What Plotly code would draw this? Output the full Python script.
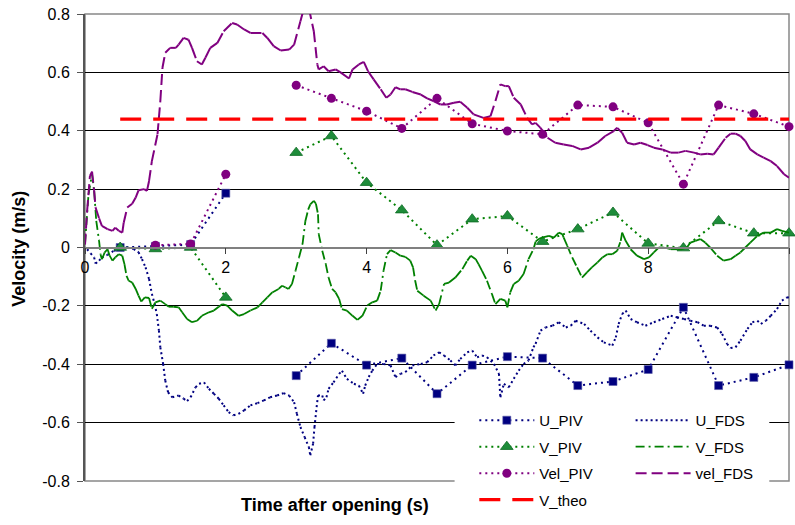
import plotly.graph_objects as go

# ---------------- data ----------------
T_PIV = [0.5, 1.0, 1.5, 2.0, 2.5, 3.0, 3.5, 4.0, 4.5, 5.0, 5.5, 6.0, 6.5, 7.0, 7.5, 8.0, 8.5, 9.0, 9.5, 10.0]
U_PIV = [0.0, 0.004, 0.01, 0.186, None, -0.439, -0.328, -0.403, -0.379, -0.501, -0.403, -0.374, -0.379,
         -0.473, -0.459, -0.418, -0.205, -0.473, -0.445, -0.402]
V_PIV = [0.0, -0.005, 0.0, -0.171, None, 0.325, 0.382, 0.222, 0.128, 0.008, 0.097, 0.108, 0.02,
         0.063, 0.12, 0.014, -0.002, 0.091, 0.049, 0.049]
T_VEL_PIV = [1.0, 1.5, 2.0, 2.5, 3.0, 3.5, 4.0, 4.5, 5.0, 5.5, 6.0, 6.5, 7.0, 7.5, 8.0, 8.5, 9.0, 9.5, 10.0]
VEL_PIV = [0.008, 0.012, 0.251, None, 0.556, 0.511, 0.467, 0.408, 0.511, 0.424, 0.399, 0.388,
           0.488, 0.482, 0.427, 0.217, 0.488, 0.458, 0.414]

U_FDS = [(0.0, 0.0), (0.03, -0.006), (0.08, -0.02), (0.13, -0.034), (0.15, -0.055), (0.2, -0.045),
         (0.24, -0.034), (0.32, -0.025), (0.41, -0.011), (0.5, -0.005), (0.6, 0.0), (0.69, -0.005),
         (0.76, -0.016), (0.81, -0.04), (0.86, -0.068), (0.91, -0.108), (0.95, -0.159), (0.99, -0.194),
         (1.02, -0.228), (1.05, -0.285), (1.07, -0.342), (1.11, -0.399), (1.14, -0.456), (1.18, -0.496),
         (1.24, -0.513), (1.33, -0.507), (1.40, -0.518), (1.45, -0.526), (1.50, -0.513), (1.57, -0.479),
         (1.62, -0.467), (1.69, -0.462), (1.76, -0.484), (1.83, -0.501), (1.90, -0.518), (1.97, -0.541),
         (2.04, -0.564), (2.11, -0.575), (2.18, -0.570), (2.26, -0.558), (2.35, -0.541), (2.45, -0.533),
         (2.54, -0.524), (2.63, -0.513), (2.73, -0.507), (2.82, -0.499), (2.90, -0.507), (2.97, -0.530),
         (3.01, -0.570), (3.06, -0.615), (3.12, -0.650), (3.18, -0.684), (3.20, -0.712), (3.24, -0.672),
         (3.26, -0.615), (3.29, -0.547), (3.31, -0.507), (3.37, -0.507), (3.39, -0.524), (3.43, -0.513),
         (3.46, -0.484), (3.53, -0.462), (3.61, -0.433), (3.65, -0.422), (3.72, -0.450), (3.82, -0.467),
         (3.89, -0.473), (3.95, -0.501), (3.98, -0.473), (4.03, -0.444), (4.08, -0.422), (4.15, -0.399),
         (4.24, -0.399), (4.34, -0.404), (4.41, -0.444), (4.48, -0.433), (4.55, -0.427), (4.65, -0.404),
         (4.77, -0.399), (4.86, -0.393), (4.95, -0.370), (5.03, -0.359), (5.10, -0.370), (5.19, -0.387),
         (5.26, -0.404), (5.33, -0.382), (5.43, -0.359), (5.50, -0.353), (5.57, -0.376), (5.64, -0.370),
         (5.71, -0.376), (5.81, -0.399), (5.88, -0.433), (5.90, -0.513), (5.95, -0.467), (6.02, -0.479),
         (6.09, -0.450), (6.16, -0.422), (6.23, -0.399), (6.30, -0.387), (6.37, -0.342), (6.40, -0.330),
         (6.47, -0.285), (6.54, -0.274), (6.64, -0.268), (6.73, -0.256), (6.83, -0.274), (6.90, -0.268),
         (6.97, -0.251), (7.09, -0.262), (7.18, -0.285), (7.28, -0.308), (7.37, -0.325), (7.49, -0.336),
         (7.54, -0.308), (7.58, -0.262), (7.63, -0.228), (7.68, -0.216), (7.75, -0.245), (7.84, -0.256),
         (7.96, -0.268), (8.08, -0.256), (8.20, -0.245), (8.32, -0.234), (8.41, -0.239), (8.51, -0.245),
         (8.60, -0.251), (8.70, -0.256), (8.79, -0.268), (8.88, -0.268), (8.98, -0.274), (9.05, -0.296),
         (9.12, -0.330), (9.17, -0.344), (9.24, -0.342), (9.31, -0.319), (9.41, -0.279), (9.48, -0.256),
         (9.55, -0.251), (9.60, -0.262), (9.67, -0.251), (9.74, -0.234), (9.83, -0.211), (9.90, -0.182),
         (9.97, -0.171), (10.0, -0.171)]

V_FDS = [(0.0, 0.012), (0.05, 0.182), (0.10, 0.251), (0.13, 0.194), (0.16, 0.091), (0.20, 0.023),
         (0.22, -0.023), (0.24, -0.040), (0.28, -0.017), (0.32, -0.006), (0.35, -0.028), (0.39, -0.045),
         (0.43, -0.034), (0.48, -0.023), (0.53, -0.028), (0.56, -0.057), (0.59, -0.097), (0.62, -0.114),
         (0.67, -0.120), (0.72, -0.142), (0.76, -0.165), (0.80, -0.185), (0.85, -0.171), (0.91, -0.173),
         (0.95, -0.210), (1.0, -0.188), (1.07, -0.182), (1.14, -0.194), (1.19, -0.203), (1.26, -0.203),
         (1.33, -0.205), (1.38, -0.222), (1.45, -0.245), (1.52, -0.256), (1.59, -0.251), (1.66, -0.234),
         (1.76, -0.222), (1.83, -0.216), (1.90, -0.203), (1.95, -0.194), (2.02, -0.199), (2.09, -0.216),
         (2.18, -0.234), (2.26, -0.228), (2.35, -0.216), (2.45, -0.205), (2.52, -0.188), (2.59, -0.171),
         (2.66, -0.154), (2.75, -0.142), (2.80, -0.131), (2.85, -0.137), (2.89, -0.142), (2.94, -0.125),
         (2.99, -0.080), (3.04, -0.034), (3.09, 0.012), (3.13, 0.090), (3.17, 0.130), (3.20, 0.148),
         (3.25, 0.160), (3.28, 0.150), (3.31, 0.114), (3.32, 0.046), (3.37, -0.011), (3.42, -0.057),
         (3.46, -0.103), (3.51, -0.142), (3.56, -0.154), (3.61, -0.176), (3.65, -0.211), (3.72, -0.216),
         (3.80, -0.234), (3.87, -0.248), (3.94, -0.234), (4.01, -0.199), (4.08, -0.188), (4.15, -0.182),
         (4.20, -0.148), (4.24, -0.080), (4.29, -0.023), (4.34, -0.009), (4.41, -0.017), (4.48, -0.028),
         (4.55, -0.032), (4.62, -0.045), (4.66, -0.068), (4.69, -0.114), (4.72, -0.148), (4.81, -0.165),
         (4.91, -0.182), (4.98, -0.216), (5.03, -0.194), (5.10, -0.125), (5.17, -0.120), (5.26, -0.103),
         (5.36, -0.074), (5.43, -0.045), (5.48, -0.028), (5.55, -0.040), (5.59, -0.057), (5.64, -0.080),
         (5.71, -0.114), (5.78, -0.159), (5.83, -0.194), (5.90, -0.176), (5.97, -0.182), (6.00, -0.205),
         (6.04, -0.154), (6.09, -0.125), (6.16, -0.114), (6.23, -0.091), (6.30, -0.040), (6.37, -0.006),
         (6.40, 0.020), (6.45, 0.030), (6.49, 0.034), (6.59, 0.040), (6.66, 0.034), (6.73, 0.051),
         (6.78, 0.046), (6.80, 0.034), (6.85, 0.006), (6.92, -0.034), (6.99, -0.068), (7.06, -0.103),
         (7.13, -0.085), (7.20, -0.068), (7.28, -0.051), (7.35, -0.034), (7.42, -0.023), (7.49, -0.023),
         (7.56, -0.011), (7.61, 0.023), (7.63, 0.051), (7.68, 0.023), (7.75, -0.006), (7.84, -0.028),
         (7.94, -0.040), (8.01, -0.034), (8.08, -0.017), (8.15, 0.0), (8.22, 0.0), (8.32, -0.006),
         (8.41, -0.006), (8.48, -0.006), (8.55, 0.0), (8.60, 0.017), (8.67, 0.023), (8.74, 0.029),
         (8.81, 0.017), (8.88, 0.0), (8.98, -0.028), (9.07, -0.045), (9.17, -0.040), (9.24, -0.028),
         (9.31, -0.017), (9.38, 0.0), (9.45, 0.017), (9.55, 0.040), (9.64, 0.051), (9.74, 0.051),
         (9.83, 0.063), (9.90, 0.057), (10.0, 0.051)]

VEL_FDS = [(0.0, 0.01), (0.03, 0.125), (0.07, 0.245), (0.10, 0.26), (0.13, 0.194), (0.15, 0.137),
           (0.20, 0.10), (0.24, 0.074), (0.32, 0.063), (0.39, 0.057), (0.43, 0.068), (0.48, 0.057),
           (0.53, 0.051), (0.55, 0.085), (0.60, 0.137), (0.67, 0.150), (0.72, 0.171), (0.76, 0.196),
           (0.84, 0.200), (0.88, 0.194), (0.91, 0.228), (0.95, 0.296), (1.03, 0.388), (1.07, 0.502),
           (1.10, 0.615), (1.14, 0.667), (1.21, 0.684), (1.29, 0.684), (1.33, 0.695), (1.40, 0.718),
           (1.47, 0.712), (1.52, 0.684), (1.59, 0.638), (1.66, 0.627), (1.71, 0.650), (1.78, 0.684),
           (1.88, 0.701), (1.97, 0.741), (2.09, 0.769), (2.16, 0.764), (2.26, 0.747), (2.35, 0.735),
           (2.52, 0.735), (2.59, 0.718), (2.68, 0.690), (2.78, 0.675), (2.90, 0.678), (2.97, 0.695),
           (3.06, 0.775), (3.11, 0.82), (3.18, 0.82), (3.25, 0.741), (3.30, 0.627), (3.32, 0.610),
           (3.39, 0.621), (3.46, 0.604), (3.56, 0.610), (3.63, 0.600), (3.75, 0.579), (3.80, 0.610),
           (3.89, 0.627), (3.96, 0.636), (4.02, 0.604), (4.10, 0.576), (4.20, 0.542), (4.28, 0.513),
           (4.34, 0.524), (4.41, 0.549), (4.48, 0.542), (4.55, 0.542), (4.65, 0.533), (4.77, 0.524),
           (4.86, 0.511), (4.95, 0.502), (5.05, 0.490), (5.14, 0.490), (5.24, 0.496), (5.33, 0.499),
           (5.43, 0.479), (5.52, 0.456), (5.66, 0.444), (5.76, 0.450), (5.83, 0.502), (5.90, 0.559),
           (5.97, 0.553), (6.02, 0.553), (6.09, 0.513), (6.19, 0.490), (6.28, 0.444), (6.35, 0.422),
           (6.40, 0.427), (6.47, 0.410), (6.57, 0.376), (6.68, 0.359), (6.80, 0.353), (6.92, 0.348),
           (7.04, 0.336), (7.16, 0.342), (7.28, 0.359), (7.39, 0.382), (7.51, 0.399), (7.56, 0.410),
           (7.63, 0.393), (7.70, 0.359), (7.80, 0.353), (7.89, 0.359), (7.99, 0.351), (8.08, 0.342),
           (8.20, 0.336), (8.32, 0.325), (8.43, 0.325), (8.53, 0.331), (8.65, 0.325), (8.74, 0.319),
           (8.84, 0.321), (8.93, 0.319), (9.00, 0.342), (9.10, 0.376), (9.17, 0.390), (9.24, 0.390),
           (9.31, 0.382), (9.38, 0.365), (9.45, 0.336), (9.55, 0.319), (9.64, 0.308), (9.74, 0.296),
           (9.83, 0.279), (9.93, 0.251), (10.0, 0.239)]

T_THEO = [0.5, 10.0]
V_THEO = [0.44, 0.44]

Y_TICKS = [0.8, 0.6, 0.4, 0.2, 0.0, -0.2, -0.4, -0.6, -0.8]
Y_TICKTEXT = ["0.8", "0.6", "0.4", "0.2", "0", "-0.2", "-0.4", "-0.6", "-0.8"]
X_TICKS = [0, 2, 4, 6, 8, 10]

# ---------------- helpers ----------------
NAVY, GREEN, PURPLE, RED = "#000080", "#008000", "#800080", "#FF0000"
FONT = "Liberation Sans, Arial, sans-serif"


def per_segment(pairs):
    """Split a line into separate segments so the dash pattern restarts at every
    data point (as in the original spreadsheet chart)."""
    xs, ys = [], []
    for (x0, y0), (x1, y1) in zip(pairs[:-1], pairs[1:]):
        xs += [x0, x1, None]
        ys += [y0, y1, None]
    return xs, ys


fig = go.Figure()

# U_PIV
fig.add_trace(go.Scatter(x=T_PIV, y=U_PIV, name="U_PIV", mode="lines+markers",
                         line=dict(color=NAVY, width=2, dash="2px,4px"),
                         marker=dict(symbol="square", size=8, color=NAVY,
                                     line=dict(color="#5a5aa8", width=0.6)),
                         cliponaxis=False, legend="legend", legendgroup="a"))
# U_FDS
ux, uy = per_segment(U_FDS)
fig.add_trace(go.Scatter(x=ux, y=uy, name="U_FDS", mode="lines",
                         line=dict(color=NAVY, width=2, dash="2px,3px"),
                         legend="legend2", legendgroup="b"))
# V_PIV
fig.add_trace(go.Scatter(x=T_PIV, y=V_PIV, name="V_PIV", mode="lines+markers",
                         line=dict(color=GREEN, width=2, dash="2px,4px"),
                         marker=dict(symbol="triangle-up", size=11, color="#1E8C3A",
                                     line=dict(color="#0B6B22", width=0.8)),
                         cliponaxis=False, legend="legend", legendgroup="c"))
# V_FDS
vx, vy = per_segment(V_FDS)
fig.add_trace(go.Scatter(x=vx, y=vy, name="V_FDS", mode="lines",
                         line=dict(color=GREEN, width=1.8, dash="9px,4px,2px,4px"),
                         legend="legend2", legendgroup="d"))
# Vel_PIV
fig.add_trace(go.Scatter(x=T_VEL_PIV, y=VEL_PIV, name="Vel_PIV", mode="lines+markers",
                         line=dict(color=PURPLE, width=2, dash="2px,4px"),
                         marker=dict(symbol="circle", size=9, color=PURPLE),
                         cliponaxis=False, legend="legend", legendgroup="e"))
# vel_FDS
wx, wy = per_segment(VEL_FDS)
fig.add_trace(go.Scatter(x=wx, y=wy, name="vel_FDS", mode="lines",
                         line=dict(color=PURPLE, width=2, dash="11px,5px"),
                         legend="legend2", legendgroup="f"))
# V_theo
fig.add_trace(go.Scatter(x=T_THEO, y=V_THEO, name="V_theo", mode="lines",
                         line=dict(color=RED, width=3.2, dash="21px,12px"),
                         legend="legend", legendgroup="g"))

legend_common = dict(font=dict(family=FONT, size=15, color="#000"),
                     bgcolor="rgba(0,0,0,0)", borderwidth=0, itemwidth=55,
                     traceorder="grouped", tracegroupgap=4,
                     xanchor="left", yanchor="top", orientation="v")

fig.update_layout(
    width=795, height=525,
    margin=dict(l=85, r=6, t=12, b=44),
    paper_bgcolor="white", plot_bgcolor="white",
    font=dict(family=FONT, size=16, color="#000"),
    showlegend=True,
    legend=dict(x=0.553, y=0.165, **legend_common),
    legend2=dict(x=0.775, y=0.165, **legend_common),
    xaxis=dict(range=[0, 10], tickvals=X_TICKS, ticktext=[str(v) for v in X_TICKS],
               anchor="free", position=0.5, showgrid=False, zeroline=False,
               showline=True, linecolor="#808080", linewidth=1.5,
               ticks="outside", ticklen=6, tickcolor="#404040", tickwidth=1,
               tickfont=dict(family=FONT, size=16, color="#000")),
    yaxis=dict(range=[-0.8, 0.8], tickvals=Y_TICKS, ticktext=Y_TICKTEXT,
               showgrid=True, gridcolor="#000000", gridwidth=1, zeroline=False,
               showline=True, linecolor="#555555", linewidth=2,
               ticks="outside", ticklen=6, tickcolor="#555555", tickwidth=1,
               ticklabelstandoff=4,
               tickfont=dict(family=FONT, size=16, color="#000")),
    shapes=[
        # plot-area frame
        dict(type="rect", xref="paper", yref="paper", x0=0, x1=1, y0=0, y1=1,
             line=dict(color="#888888", width=1.5), fillcolor="rgba(0,0,0,0)", layer="between"),
        # legend background
        dict(type="rect", xref="paper", yref="paper", x0=0.525, x1=0.972, y0=-0.095, y1=0.172,
             line=dict(width=0), fillcolor="white", layer="above"),
    ],
    annotations=[
        dict(text="<b>Time after opening (s)</b>", xref="paper", yref="paper",
             x=0.355, y=-0.051, xanchor="center", yanchor="middle", showarrow=False,
             font=dict(family=FONT, size=18, color="#000")),
        dict(text="<b>Velocity (m/s)</b>", xref="paper", yref="paper",
             x=-0.094, y=0.497, xanchor="center", yanchor="middle", showarrow=False,
             textangle=-90, font=dict(family=FONT, size=18, color="#000")),
    ],
)

fig.write_html("out.html")
